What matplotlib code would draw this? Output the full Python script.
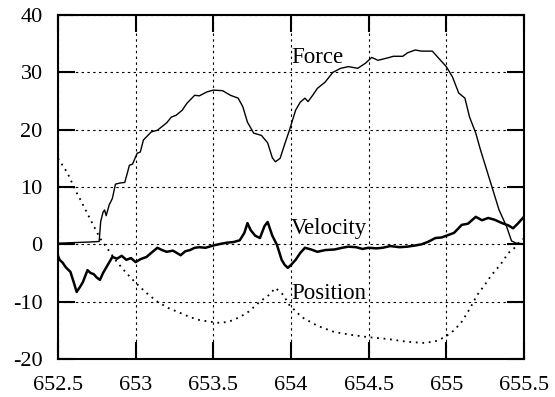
import matplotlib
matplotlib.use("Agg")
import matplotlib.pyplot as plt

plt.rcParams['font.family'] = ['Liberation Serif', 'DejaVu Serif']
plt.rcParams['axes.unicode_minus'] = False

# Force (solid line)
force_t = [652.5, 652.6, 652.7, 652.765, 652.775, 652.79, 652.8, 652.81, 652.83, 652.85,
           652.87, 652.9, 652.93, 652.96, 652.98, 653.01, 653.03, 653.05, 653.1, 653.14,
           653.2, 653.23, 653.26, 653.3, 653.33, 653.38, 653.41, 653.46, 653.5, 653.56,
           653.61, 653.66, 653.69, 653.72, 653.76, 653.81, 653.85, 653.88, 653.9, 653.93,
           653.96, 653.99, 654.03, 654.06, 654.09, 654.11, 654.14, 654.17, 654.22, 654.27,
           654.32, 654.37, 654.43, 654.48, 654.52, 654.56, 654.62, 654.66, 654.72, 654.75,
           654.8, 654.84, 654.91, 654.95, 655.0, 655.04, 655.08, 655.12, 655.15, 655.19,
           655.22, 655.26, 655.3, 655.34, 655.39, 655.42, 655.45, 655.5]
force = [0.2, 0.3, 0.4, 0.5, 4.0, 5.6, 6.0, 5.0, 6.9, 8.0,
         10.5, 10.7, 10.8, 13.8, 14.0, 15.9, 16.1, 18.2, 19.6, 19.9,
         21.2, 22.2, 22.5, 23.4, 24.6, 26.0, 25.9, 26.6, 26.9, 26.8,
         26.0, 25.5, 24.0, 21.3, 19.4, 19.0, 17.7, 15.1, 14.4, 15.0,
         17.5, 19.9, 23.4, 24.8, 25.5, 24.9, 26.0, 27.2, 28.3, 30.0,
         30.7, 31.0, 30.7, 31.6, 32.6, 32.1, 32.5, 32.8, 32.8, 33.4,
         33.9, 33.7, 33.7, 32.5, 31.0, 29.2, 26.4, 25.5, 22.2, 19.4,
         16.5, 13.0, 9.5, 6.0, 3.0, 0.6, 0.2, 0.1]

# Velocity (noisy solid line)
vel_t = [652.5, 652.51, 652.53, 652.55, 652.58, 652.6, 652.62, 652.64, 652.66, 652.69,
         652.71, 652.73, 652.75, 652.77, 652.79, 652.82, 652.85, 652.88, 652.91, 652.94,
         652.97, 653.0, 653.03, 653.07, 653.1, 653.14, 653.17, 653.2, 653.24, 653.29,
         653.32, 653.35, 653.38, 653.41, 653.45, 653.5, 653.55, 653.59, 653.63, 653.67,
         653.7, 653.72, 653.74, 653.77, 653.8, 653.83, 653.85, 653.88, 653.91, 653.94,
         653.96, 653.98, 654.0, 654.03, 654.06, 654.09, 654.13, 654.17, 654.22, 654.28,
         654.33, 654.37, 654.42, 654.46, 654.5, 654.55, 654.59, 654.64, 654.7, 654.75,
         654.8, 654.84, 654.88, 654.93, 654.97, 655.01, 655.05, 655.1, 655.14, 655.19,
         655.23, 655.27, 655.31, 655.36, 655.4, 655.43, 655.46, 655.5]
velocity = [-2.0, -2.7, -3.2, -4.0, -4.8, -6.5, -8.3, -7.5, -6.6, -4.5,
            -5.0, -5.2, -5.8, -6.2, -5.0, -3.6, -2.2, -2.5, -2.0, -2.7,
            -2.4, -3.1, -2.6, -2.2, -1.5, -0.6, -1.0, -1.3, -1.1, -1.9,
            -1.2, -1.0, -0.6, -0.5, -0.6, -0.2, 0.1, 0.3, 0.4, 0.7,
            2.0, 3.7, 2.5, 1.5, 1.1, 3.2, 3.9, 1.5, -0.1, -2.7,
            -3.6, -4.1, -3.6, -2.7, -1.5, -0.6, -0.9, -1.3, -1.0, -0.9,
            -0.6, -0.4, -0.5, -0.8, -0.6, -0.7, -0.6, -0.3, -0.5, -0.4,
            -0.2, 0.0, 0.4, 1.1, 1.2, 1.6, 2.0, 3.4, 3.6, 4.8,
            4.2, 4.6, 4.3, 3.7, 3.3, 2.8, 3.6, 4.8]

# Position (dotted line)
pos_t = [652.5, 652.56, 652.62, 652.64, 652.7, 652.77, 652.83, 652.88, 652.94, 653.0,
         653.07, 653.14, 653.21, 653.29, 653.35, 653.41, 653.48, 653.54, 653.6, 653.67,
         653.73, 653.8, 653.86, 653.9, 653.95, 653.99, 654.07, 654.17, 654.28, 654.39,
         654.5, 654.62, 654.75, 654.86, 654.93, 654.99, 655.05, 655.1, 655.15, 655.2,
         655.25, 655.29, 655.35, 655.4, 655.44, 655.47, 655.5]
position = [15.0, 12.5, 9.0, 8.0, 4.8, 1.1, -1.2, -3.1, -5.0, -6.7,
            -8.5, -10.0, -11.1, -12.0, -12.7, -13.2, -13.5, -13.7, -13.5, -12.7,
            -11.7, -10.0, -8.8, -7.6, -8.8, -10.6, -12.7, -14.2, -15.3, -15.8,
            -16.2, -16.5, -17.0, -17.2, -16.9, -16.2, -15.0, -13.5, -11.3, -8.8,
            -7.0, -5.4, -3.5, -1.5, -0.6, 0.4, 1.0]

labels = ['Force', 'Velocity', 'Position']
label_x = [654.0, 654.0, 654.0]
label_y = [31.6, 1.8, -9.5]

fig = plt.figure(figsize=(5.55, 3.97), dpi=100)
ax = fig.add_axes([0.1045, 0.0957, 0.8395, 0.8665])

ax.plot(force_t, force, color='black', lw=1.0)
ax.plot(vel_t, velocity, color='black', lw=1.8)
ax.plot(pos_t, position, color='black', lw=1.3, linestyle=(0, (1, 2.6)))

for name, lx, ly in zip(labels, label_x, label_y):
    ax.text(lx, ly, name, fontsize=16.5, va='baseline', ha='left')

ax.set_xlim(652.5, 655.5)
ax.set_ylim(-20, 40)
ax.set_xticks([652.5, 653, 653.5, 654, 654.5, 655, 655.5])
ax.set_xticklabels(['652.5', '653', '653.5', '654', '654.5', '655', '655.5'])
ax.set_yticks([-20, -10, 0, 10, 20, 30, 40])

ax.grid(True, color='black', lw=0.8, linestyle=(0, (2.2, 3)))
ax.tick_params(direction='in', length=12, width=1.5, top=True, right=True,
               labelsize=16)
ax.tick_params(axis='x', pad=12)
ax.tick_params(axis='y', pad=11)
for s in ax.spines.values():
    s.set_linewidth(1.5)

plt.savefig('out.png', dpi=100)
